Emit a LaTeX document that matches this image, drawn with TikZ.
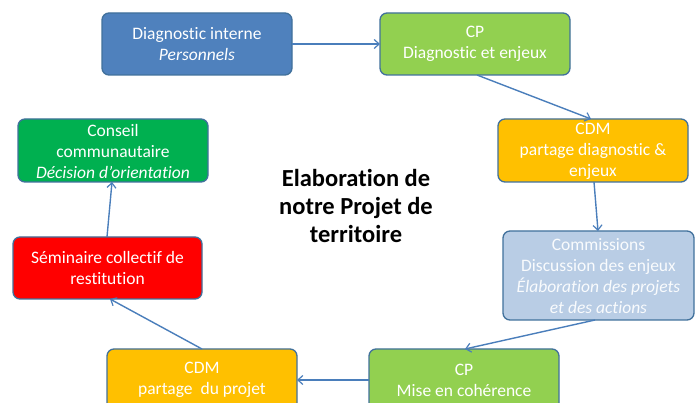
\documentclass[tikz,border=0pt]{standalone}
\usepackage{fontspec}
\setmainfont[Ligatures=NoCommon]{Carlito}
\usetikzlibrary{arrows.meta}
\definecolor{bblue}{HTML}{4F81BD}
\definecolor{bgreen}{HTML}{92D050}
\definecolor{borange}{HTML}{FFC000}
\definecolor{blight}{HTML}{B9CDE5}
\definecolor{bred}{HTML}{FF0000}
\definecolor{bdgreen}{HTML}{00B050}
\definecolor{bline}{HTML}{41719C}
\definecolor{arr}{HTML}{4A7EBB}
\tikzset{
  box/.style={draw=bline, line width=1.3pt, rounded corners=7pt},
  btext/.style={align=center, text=white, font=\fontsize{17.5}{21}\selectfont, inner sep=0pt},
  conn/.style={draw=arr, line width=1.4pt, -{Straight Barb[length=5pt,width=9pt,line width=1.2pt]}}
}
\begin{document}
\begin{tikzpicture}[x=1pt,y=-1pt]
\useasboundingbox (0,0) rectangle (699,403);
\clip (0,0) rectangle (699,403);
\fill[white] (0,0) rectangle (699,403);
% boxes
\draw[box, fill=bblue] (102,13) rectangle (292,75);
\node[btext] (t1) at (197,44) {Diagnostic interne\\\textit{Personnels}};
\coordinate (b1r) at (292,44);
\draw[box, fill=bgreen] (380,13) rectangle (570,75);
\node[btext] (t2) at (475,44) {CP\\Diagnostic et enjeux};
\coordinate (b2l) at (380,44);
\coordinate (b2b) at (477,75);
\draw[box, fill=borange] (498,119) rectangle (688,182);
\node[btext] (t3) at (593,151) {CDM\\partage diagnostic \&\\enjeux};
\coordinate (b3t) at (591,119);
\coordinate (b3b) at (594,182);
\draw[box, fill=blight] (503,231) rectangle (694,320);
\node[btext, text=white!92!blight] (t4) at (598.5,276) {Commissions\\Discussion des enjeux\\\textit{Élaboration des projets}\\\textit{et des actions}};
\coordinate (b4t) at (598,231);
\coordinate (b4b) at (595,320);
\draw[box, fill=bgreen] (369,349) rectangle (559,412);
\node[btext] (t5) at (464,380) {CP\\Mise en cohérence};
\coordinate (b5t) at (465,349);
\coordinate (b5l) at (369,380);
\draw[box, fill=borange] (107,349) rectangle (297,412);
\node[btext] (t6) at (202,380) {CDM\\partage \ du projet};
\coordinate (b6r) at (297,380);
\coordinate (b6t) at (202,349);
\draw[box, fill=bred] (13,237) rectangle (202,299);
\node[btext] (t7) at (107.5,268) {Séminaire collectif de\\restitution};
\coordinate (b7b) at (110,299);
\coordinate (b7t) at (107,237);
\draw[box, fill=bdgreen] (18,119) rectangle (208,182);
\node[btext] (t8) at (113,151) {Conseil\\communautaire\\\textit{Décision d’orientation}};
\coordinate (b8b) at (112,182);
% title
\node[align=center, font=\fontsize{24.5}{28}\selectfont\bfseries, inner sep=0pt] (title) at (356,206) {Elaboration de\\notre Projet de\\territoire};
% connectors
\draw[conn] (b1r) -- (b2l);
\draw[conn] (b2b) -- (b3t);
\draw[conn] (b3b) -- (b4t);
\draw[conn] (b4b) -- (b5t);
\draw[conn] (b5l) -- (b6r);
\draw[conn] (b6t) -- (b7b);
\draw[conn] (b7t) -- (b8b);
\end{tikzpicture}
\end{document}
